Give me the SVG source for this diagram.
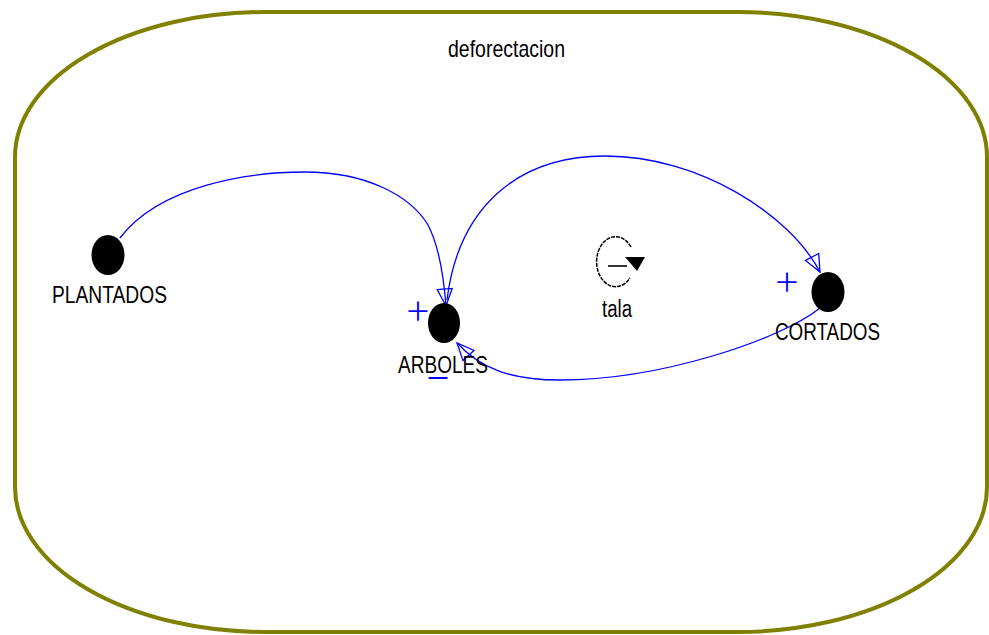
<svg xmlns="http://www.w3.org/2000/svg" width="989" height="635" viewBox="0 0 989 635">
<style>
.lbl{font-family:"Liberation Sans",Arial,sans-serif;fill:#000;}
.pol{font-family:Inter,"Liberation Sans",Arial,sans-serif;font-weight:200;fill:#0000ff;font-size:44px;text-anchor:middle;}
.node{fill:#000;}
.link{fill:none;stroke:#0000ff;stroke-width:1.3;marker-end:url(#arr);}
</style>
<defs>
<marker id="arr" markerUnits="userSpaceOnUse" markerWidth="20" markerHeight="18" viewBox="0 0 20 18" refX="18" refY="9" orient="auto">
<path d="M1,1.5 L18,9 L1,16.5 Z" fill="none" stroke="#0000ff" stroke-width="1.3"/>
</marker>
</defs>
<rect width="989" height="635" fill="#fff"/>
<g id="frame">
<rect x="15" y="12" width="972" height="620" rx="250" ry="145" fill="none" stroke="#808000" stroke-width="4"/>
<text class="lbl" x="448" y="57" font-size="24" textLength="117" lengthAdjust="spacingAndGlyphs">deforectacion</text>
</g>
<g id="connectors">
<path class="link" d="M120,238 C160,185 250,172 305,172 C365,172 410,195 428,225 C440,248 444,280 446,306"/>
<path class="link" d="M447,300 C458,210 515,156 605,156 C700,156 790,215 820,272"/>
<path class="link" d="M820,308 C780,340 660,380 560,380 C510,380 480,368 457,343"/>
<text class="pol" x="418" y="324">+</text>
<text class="pol" x="787" y="295">+</text>
<text class="pol" x="438" y="391">−</text>
</g>
<g id="node-plantados">
<ellipse class="node" cx="108" cy="255" rx="16.5" ry="20"/>
<text class="lbl" x="52" y="303" font-size="23" textLength="115" lengthAdjust="spacingAndGlyphs">PLANTADOS</text>
</g>
<g id="node-arboles">
<ellipse class="node" cx="444" cy="323" rx="16" ry="20"/>
<text class="lbl" x="398" y="373" font-size="24" textLength="90" lengthAdjust="spacingAndGlyphs">ARBOLES</text>
</g>
<g id="node-cortados">
<ellipse class="node" cx="828" cy="292" rx="16.5" ry="20"/>
<text class="lbl" x="775" y="340" font-size="24" textLength="105" lengthAdjust="spacingAndGlyphs">CORTADOS</text>
</g>
<g id="loop-tala">
<path d="M631,247 A19,25 0 1 0 630,278" fill="none" stroke="#000" stroke-width="1.5" stroke-dasharray="4 1"/>
<line x1="608" y1="266" x2="627" y2="266" stroke="#000" stroke-width="1.6"/>
<polygon points="625,257 645,257 637,271" fill="#000"/>
<text class="lbl" x="602" y="317" font-size="23" textLength="30" lengthAdjust="spacingAndGlyphs">tala</text>
</g>
</svg>
